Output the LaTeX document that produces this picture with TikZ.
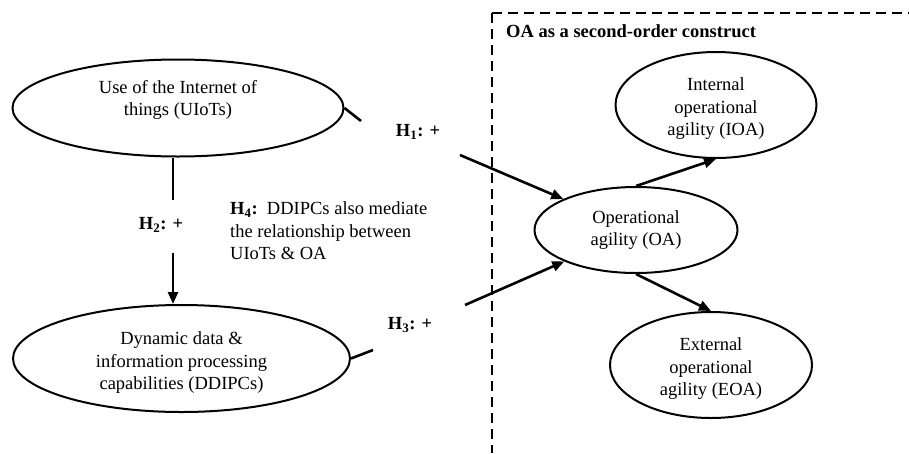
\documentclass[tikz,border=0pt]{standalone}
\usepackage{fontspec}
\setmainfont{Liberation Serif}
\usetikzlibrary{arrows.meta,shapes.geometric}
\begin{document}
\begin{tikzpicture}[x=1pt,y=-1pt,
  ell/.style={draw,ellipse,line width=2pt,inner sep=0pt},
  txt/.style={align=center,font=\fontsize{18.5}{22.5}\selectfont,inner sep=0pt},
  lbl/.style={font=\fontsize{18.5}{22.5}\selectfont\bfseries,inner sep=0pt},
  conn/.style={line width=2.6pt},
  arr/.style={line width=2.6pt,-{Triangle[length=12pt,width=10pt]}},
  boxline/.style={line width=2pt,dash pattern=on 10pt off 6pt}]
\useasboundingbox (0,0) rectangle (909,453);
% dashed box
\draw[boxline] (492,13) -- (492,453);
\draw[boxline] (492,13) -- (909,13);
\node[lbl,anchor=west] (title) at (506,31) {OA as a second-order construct};
% ellipses
\node[ell,minimum width=331pt,minimum height=97pt] (u) at (178,108) {};
\node[txt] (ut) at (178,100) {Use of the Internet of\\things (UIoTs)};
\node[ell,minimum width=337pt,minimum height=107pt] (d) at (181.5,358.5) {};
\node[txt] (dt) at (181.5,363) {Dynamic data \&\\information processing\\capabilities (DDIPCs)};
\node[ell,minimum width=203pt,minimum height=86pt] (oa) at (636,230) {};
\node[txt] (oat) at (636,230) {Operational\\agility (OA)};
\node[ell,minimum width=201pt,minimum height=106pt] (ioa) at (716,105) {};
\node[txt] (ioat) at (716,109) {Internal\\operational\\agility (IOA)};
\node[ell,minimum width=202pt,minimum height=106pt] (eoa) at (711,365) {};
\node[txt] (eoat) at (711,369) {External\\operational\\agility (EOA)};
% connectors
\coordinate (h1a) at (361,121);
\coordinate (h1b) at (460,155);
\draw[conn] (u.east) -- (h1a);
\draw[arr] (h1b) -- (oa);
\coordinate (h2a) at (173,200);
\coordinate (h2b) at (173,253);
\draw[conn] (h2a |- u.south) -- (h2a);
\draw[arr] (h2b) -- (h2b |- d.north);
\coordinate (h3a) at (373,350);
\coordinate (h3b) at (465,305);
\draw[conn] (d.east) -- (h3a);
\draw[arr] (h3b) -- (oa);
\draw[arr] (oa.north) -- (ioa.south);
\draw[arr] (oa.south) -- (eoa.north);
% labels
\node[lbl] (h1) at (418,132) {H\textsubscript{1}: +};
\node[lbl] (h2) at (161,225) {H\textsubscript{2}: +};
\node[lbl] (h3) at (410,325) {H\textsubscript{3}: +};
\node[txt,align=left,anchor=west] (h4) at (230,231) {\textbf{H\textsubscript{4}:}\ \ DDIPCs also mediate\\the relationship between\\UIoTs \& OA};
\end{tikzpicture}
\end{document}
